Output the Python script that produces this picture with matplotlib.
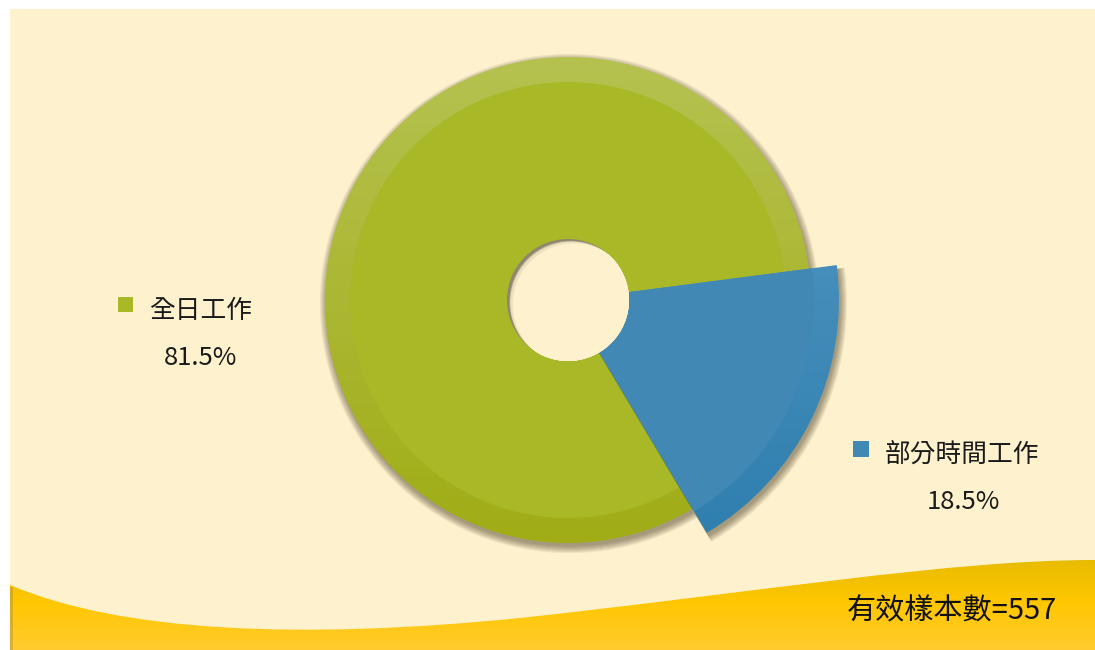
import numpy as np
import matplotlib
matplotlib.use("Agg")
import matplotlib.pyplot as plt
from matplotlib.patches import Rectangle, Circle, Wedge, PathPatch
from matplotlib.path import Path
from matplotlib.colors import LinearSegmentedColormap

plt.rcParams['font.family'] = ['Noto Sans CJK TC', 'DejaVu Sans']

# data
categories = ['全日工作', '部分時間工作']
shares = [81.5, 18.5]
labels = ['81.5%', '18.5%']
sample_note = '有效樣本數=557'

W, H = 1095, 650
CREAM = '#FEF1CD'


def py(y):
    # pixel row (from top) -> data y
    return H - y


def gradient_fill(ax, patch, top_col, bot_col, y_top, y_bot, extra=None):
    cols = [top_col, bot_col] if extra is None else [top_col, extra, bot_col]
    cmap = LinearSegmentedColormap.from_list('g', cols)
    grad = np.linspace(0, 1, 256).reshape(-1, 1)
    im = ax.imshow(grad, cmap=cmap, extent=[0, W, py(y_bot), py(y_top)],
                   origin='upper', aspect='auto', zorder=patch.get_zorder())
    im.set_clip_path(patch)
    return im


fig = plt.figure(figsize=(W / 100, H / 100), dpi=100)
fig.patch.set_facecolor('white')
ax = fig.add_axes([0, 0, 1, 1])

# cream panel
ax.add_patch(Rectangle((10, 0), W - 10, py(9), facecolor=CREAM, edgecolor='none', zorder=0))

# yellow wave at the bottom
verts = [(10, py(585)), (120, py(632)), (300, py(640)), (520, py(618)),
         (760, py(592)), (950, py(560)), (W, py(560)),
         (W, 0), (10, 0), (10, py(585))]
codes = [Path.MOVETO, Path.CURVE4, Path.CURVE4, Path.CURVE4,
         Path.CURVE4, Path.CURVE4, Path.CURVE4,
         Path.LINETO, Path.LINETO, Path.CLOSEPOLY]
wave = PathPatch(Path(verts, codes), facecolor='none', edgecolor='none', zorder=1)
ax.add_patch(wave)
gradient_fill(ax, wave, '#E6BA00', '#FFCB30', 555, 650, extra='#FFC700')
ax.plot([11, 11], [0, py(588)], color='#8a7a50', alpha=0.35, lw=2, zorder=1.5)

# pie
cx, cy = 568, py(300)
r_out = 243
wedges, _ = ax.pie(shares, startangle=7.4, radius=r_out, center=(cx, cy),
                   colors=['#A8B827', '#4189B4'], wedgeprops=dict(linewidth=0))
ax.set_xlim(0, W)
ax.set_ylim(0, H)
ax.set_aspect('auto')
ax.axis('off')

blue_r = 271
wedges[1].set_radius(blue_r)

band_cols = [('#B5C250', '#A0AD16'), ('#5A9BC6', '#2C7DAD')]
inner_cols = ['#A8B827', '#4189B4']
band_w = 25

for i, w in enumerate(wedges):
    w.set_zorder(3 + i * 2)
    r = w.r
    # soft shadow
    for k in range(7):
        sh = Wedge((cx + 1.5, cy - 3.5), r + k * 1.1, w.theta1, w.theta2,
                   facecolor='#3a2f1a', edgecolor='none', alpha=0.08,
                   zorder=2.5 + i * 2)
        ax.add_patch(sh)
    w.set_facecolor('none')
    gradient_fill(ax, w, band_cols[i][0], band_cols[i][1], 300 - r, 300 + r)
    inner = Wedge((cx, cy), r - band_w, w.theta1, w.theta2,
                  facecolor=inner_cols[i], edgecolor='none', zorder=3.2 + i * 2)
    ax.add_patch(inner)

# hole with inner shadow on the upper left
hole_r = 61
hole = Circle((cx, cy), hole_r, facecolor='#8F8670', edgecolor='none', zorder=10)
ax.add_patch(hole)
offsets = np.linspace(13, 3, 9)
for k, o in enumerate(offsets):
    c = Circle((cx + o * 0.8, cy - o * 0.6), hole_r, facecolor=CREAM,
               edgecolor='none', alpha=0.3, zorder=10.1 + k * 0.01)
    ax.add_patch(c)
    c.set_clip_path(hole)
c = Circle((cx + 3, cy - 2.5), hole_r, facecolor=CREAM, edgecolor='none', alpha=0.6, zorder=10.3)
ax.add_patch(c)
c.set_clip_path(hole)
c = Circle((cx + 6, cy - 4.5), hole_r, facecolor=CREAM, edgecolor='none', zorder=10.4)
ax.add_patch(c)
c.set_clip_path(hole)

# labels
sq = 15
ax.add_patch(Rectangle((118, py(312)), sq, sq, facecolor='#A8B827', edgecolor='none', zorder=12))
ax.add_patch(Rectangle((853, py(457)), sq + 1, sq + 1, facecolor='#4189B4', edgecolor='none', zorder=12))
ax.text(149, py(311), categories[0], fontsize=18.5, color='#1a1a1a', ha='left', va='center', zorder=12)
ax.text(201, py(358), labels[0], fontsize=18.5, color='#1a1a1a', ha='center', va='center', zorder=12)
ax.text(885, py(456), categories[1], fontsize=18.5, color='#1a1a1a', ha='left', va='center', zorder=12)
ax.text(963, py(502), labels[1], fontsize=18.5, color='#1a1a1a', ha='center', va='center', zorder=12)
ax.text(1057, py(611), sample_note, fontsize=21, color='#111111', ha='right', va='center', zorder=12)

fig.savefig('out.png', dpi=100, facecolor='white')
